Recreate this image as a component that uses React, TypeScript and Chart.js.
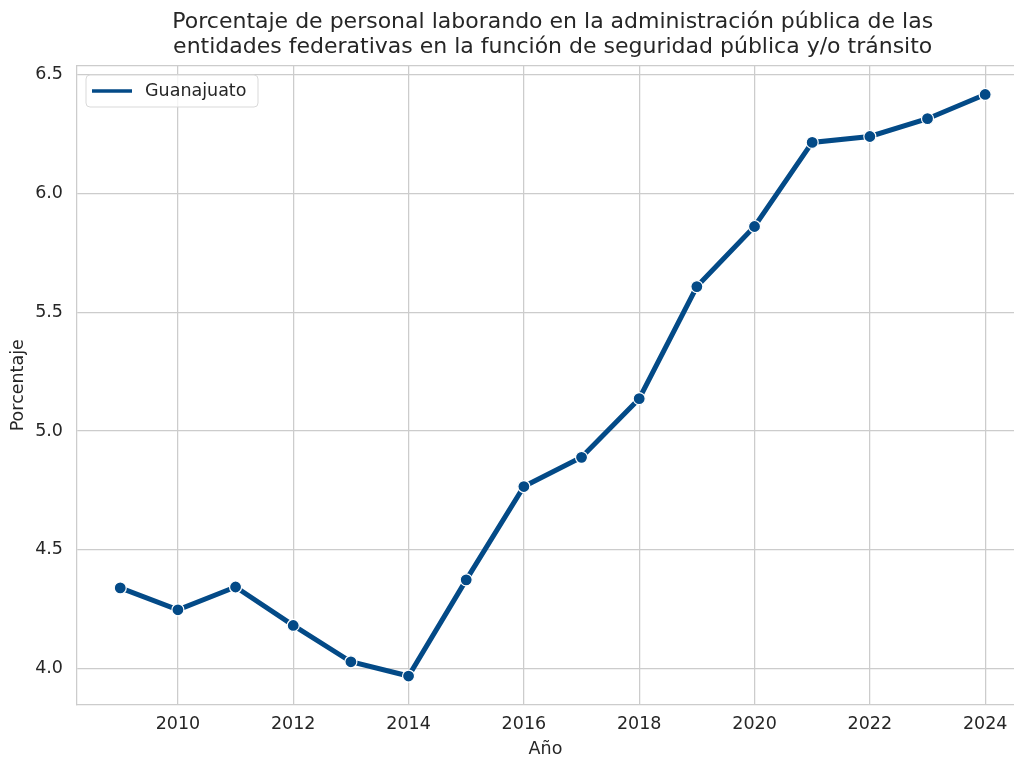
import React, { useEffect, useRef } from "react";
import { Chart, registerables } from "chart.js";

Chart.register(...registerables);

const years = [2009, 2010, 2011, 2012, 2013, 2014, 2015, 2016, 2017, 2018, 2019, 2020, 2021, 2022, 2023, 2024];
const guanajuato = [4.339, 4.247, 4.343, 4.181, 4.028, 3.968, 4.373, 4.766, 4.889, 5.136, 5.608, 5.861, 6.215, 6.240, 6.315, 6.417];
const xTickValues = [2010, 2012, 2014, 2016, 2018, 2020, 2022, 2024];
const yTickValues = [4.0, 4.5, 5.0, 5.5, 6.0, 6.5];
const titleLines = [
  "Porcentaje de personal laborando en la administración pública de las",
  "entidades federativas en la función de seguridad pública y/o tránsito",
];
const seriesLabel = "Guanajuato";
const xLabel = "Año";
const yLabel = "Porcentaje";

const FONT = "'DejaVu Sans', sans-serif";
const TEXT = "#262626";
const GRID = "#cccccc";
const LINE = "#034a87";

export default function App() {
  const ref = useRef<HTMLCanvasElement | null>(null);

  useEffect(() => {
    if (!ref.current) return;

    const deco = {
      id: "deco",
      afterDraw(chart: any) {
        const ctx = chart.ctx;
        const a = chart.chartArea;
        ctx.save();
        // top spine
        ctx.strokeStyle = GRID;
        ctx.lineWidth = 1.25;
        ctx.beginPath();
        ctx.moveTo(a.left, a.top);
        ctx.lineTo(a.right, a.top);
        ctx.stroke();
        // title centered over full axes (axes extend beyond canvas)
        const xs = chart.scales.x;
        const axLeft = xs.getPixelForValue(xs.min);
        const axRight = xs.getPixelForValue(2024.75);
        const cx = (axLeft + axRight) / 2;
        ctx.fillStyle = TEXT;
        ctx.font = `22px ${FONT}`;
        ctx.textAlign = "center";
        ctx.textBaseline = "middle";
        ctx.fillText(titleLines[0], cx, 22);
        ctx.fillText(titleLines[1], cx, 47.5);
        // legend
        const bx = a.left + 9, by = a.top + 9.5, bw = 172, bh = 32, r = 4;
        ctx.beginPath();
        ctx.moveTo(bx + r, by);
        ctx.lineTo(bx + bw - r, by);
        ctx.quadraticCurveTo(bx + bw, by, bx + bw, by + r);
        ctx.lineTo(bx + bw, by + bh - r);
        ctx.quadraticCurveTo(bx + bw, by + bh, bx + bw - r, by + bh);
        ctx.lineTo(bx + r, by + bh);
        ctx.quadraticCurveTo(bx, by + bh, bx, by + bh - r);
        ctx.lineTo(bx, by + r);
        ctx.quadraticCurveTo(bx, by, bx + r, by);
        ctx.closePath();
        ctx.fillStyle = "rgba(255,255,255,0.8)";
        ctx.fill();
        ctx.strokeStyle = "#d9d9d9";
        ctx.lineWidth = 1;
        ctx.stroke();
        ctx.strokeStyle = LINE;
        ctx.lineWidth = 3.5;
        ctx.beginPath();
        ctx.moveTo(bx + 6, by + bh / 2);
        ctx.lineTo(bx + 46, by + bh / 2);
        ctx.stroke();
        ctx.fillStyle = TEXT;
        ctx.font = `17.5px ${FONT}`;
        ctx.textAlign = "left";
        ctx.textBaseline = "middle";
        ctx.fillText(seriesLabel, bx + 59, by + bh / 2);
        ctx.restore();
      },
    };

    const chart = new Chart(ref.current, {
      type: "line",
      data: {
        datasets: [
          {
            label: seriesLabel,
            data: years.map((y, i) => ({ x: y, y: guanajuato[i] })),
            borderColor: LINE,
            backgroundColor: LINE,
            borderWidth: 5,
            pointRadius: 6,
            pointBackgroundColor: LINE,
            pointBorderColor: "#ffffff",
            pointBorderWidth: 1.2,
            tension: 0,
            clip: false as any,
          },
        ],
      },
      options: {
        responsive: false,
        animation: false,
        devicePixelRatio: 1,
        layout: { autoPadding: false, padding: { top: 65.5, left: 0, right: 0, bottom: 0 } },
        plugins: {
          legend: { display: false },
          title: { display: false },
          tooltip: { enabled: false },
        },
        scales: {
          x: {
            type: "linear",
            min: 2008.25,
            max: 2024.5,
            afterFit(scale: any) {
              scale.height = 55;
              scale.paddingLeft = 0;
              scale.paddingRight = 0;
            },
            afterBuildTicks(scale: any) {
              scale.ticks = xTickValues.map((v) => ({ value: v }));
            },
            ticks: {
              callback: (v: any) => String(v),
              color: TEXT,
              font: { family: FONT, size: 17.5 },
              padding: 9,
              maxRotation: 0,
              autoSkip: false,
            },
            grid: { color: GRID, lineWidth: 1.25, drawTicks: false },
            border: { display: true, color: GRID, width: 1.25 },
            title: {
              display: true,
              text: xLabel,
              color: TEXT,
              font: { family: FONT, size: 17.5 },
              padding: { top: 0, bottom: 0 },
            },
          },
          y: {
            type: "linear",
            min: 3.846,
            max: 6.539,
            afterFit(scale: any) {
              scale.width = 77;
              scale.paddingTop = 0;
              scale.paddingBottom = 0;
            },
            afterBuildTicks(scale: any) {
              scale.ticks = yTickValues.map((v) => ({ value: v }));
            },
            ticks: {
              callback: (v: any) => Number(v).toFixed(1),
              color: TEXT,
              font: { family: FONT, size: 17.5 },
              padding: 14,
              autoSkip: false,
            },
            grid: { color: GRID, lineWidth: 1.25, drawTicks: false },
            border: { display: true, color: GRID, width: 1.25 },
            title: {
              display: true,
              text: yLabel,
              color: TEXT,
              font: { family: FONT, size: 17.5 },
              padding: { top: 8, bottom: 0 },
            },
          },
        },
      },
      plugins: [deco],
    });

    return () => chart.destroy();
  }, []);

  return (
    <div style={{ position: "fixed", left: 0, top: 0, width: 1014, height: 760, overflow: "hidden", background: "#fff" }}>
      <canvas ref={ref} width={1014} height={760} style={{ display: "block", width: 1014, height: 760 }} />
    </div>
  );
}
